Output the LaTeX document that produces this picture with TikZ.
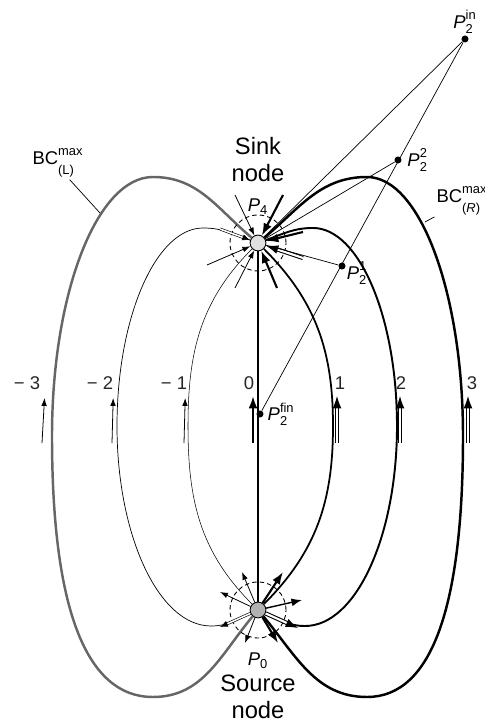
\documentclass[tikz,border=0pt]{standalone}
\usepackage{amsmath}
\usepackage{fontspec}
\setmainfont{Liberation Sans}
\usetikzlibrary{arrows.meta, positioning}

\tikzset{
  every node/.style={font=\fontsize{10.5pt}{12pt}\selectfont},
  nodelabel/.style={font=\fontsize{13.5pt}{15.5pt}\selectfont, align=center, inner sep=0pt},
  endnode/.style={circle, draw, line width=0.5pt, minimum size=9pt, inner sep=0pt},
  pdot/.style={circle, fill=black, inner sep=0pt, minimum size=4pt},
  thinline/.style={line width=0.4pt},
  thinarrow/.style={line width=0.45pt, -{Latex[length=4.5pt,width=3.2pt]}},
  thinpair/.style={line width=0.35pt, double, double distance=0.9pt, -{Latex[length=4.5pt,width=3.5pt]}},
  thickarrow/.style={line width=1.2pt, -{Latex[length=7pt,width=5pt]}},
  thickpair/.style={line width=0.6pt, double, double distance=1.2pt, -{Latex[length=7pt,width=5pt]}},
  hood/.style={dashed, dash pattern=on 2.5pt off 1.8pt, line width=0.5pt}
}
\newcommand{\lowsub}[1]{\text{\raisebox{-3.5pt}{#1}}}
\newcommand{\highsup}[1]{\text{\raisebox{1pt}{#1}}}

\begin{document}
\begin{tikzpicture}[x=0.02cm, y=0.02cm]
  \useasboundingbox (-258,0) rectangle (226,726);

  % Source and sink
  \node[endnode, fill=black!30] (src) at (0,116) {};
  \node[endnode, fill=black!12] (sink) at (0,483) {};

  % Right curves 1, 2, 3
  \draw[line width=1pt] (src) to[out=45,in=-90] (75,300) to[out=90,in=-45] (sink);
  \draw[line width=1.1pt] (src) to[out=-25,in=180] (47,100)
      .. controls +(51,0) and +(0,-110) .. (139,300)
      .. controls +(0,109) and +(46,0) .. (55,498) to[out=180,in=20] (sink);
  \draw[line width=1.4pt] (src) to[out=-50,in=180] (109,29)
      .. controls +(65,0) and +(0,-170) .. (205,290)
      .. controls +(0,143) and +(53,0) .. (109,549) to[out=180,in=40] (sink);

  % Left curves -1, -2, -3
  \draw[line width=0.3pt] (src) to[out=135,in=-90] (-70,300) to[out=90,in=-135] (sink);
  \draw[line width=0.4pt] (src) to[out=-155,in=0] (-47,100)
      .. controls +(-52,0) and +(0,-110) .. (-141,300)
      .. controls +(0,109) and +(-47,0) .. (-55,498) to[out=0,in=160] (sink);
  \draw[line width=1.4pt, black!60] (src) to[out=-130,in=0] (-105,29)
      .. controls +(-68,0) and +(0,-170) .. (-206,290)
      .. controls +(0,143) and +(-56,0) .. (-105,549) to[out=0,in=140] (sink);

  % Curve 0
  \draw[line width=1.3pt] (sink) -- (src);

  % Neighbourhoods
  \draw[hood] (src) circle[radius=28];
  \draw[hood] (sink) circle[radius=28];

  % Directions leaving the source
  \foreach \p in {(-16,154),(-38,134),(-13,83)}
    \draw[thinarrow] (src) -- \p;
  \draw[thinpair] (src) -- (-38,99);
  \foreach \p in {(25,154),(20,83)}
    \draw[thickarrow] (src) -- \p;
  \draw[line width=0.8pt, -{Latex[length=6pt,width=4.5pt]}] (src) -- (44,126);
  \draw[thickpair] (src) -- (40,98);

  % Directions entering the sink
  \foreach \p in {(-23,531),(-51,461),(-23,438)}
    \draw[thinarrow] \p -- (sink);
  \draw[thinpair] (-38,497) -- (sink);
  \foreach \p in {(25,531),(19,438),(45,494)}
    \draw[thickarrow] \p -- (sink);
  \draw[thickpair] (45,468) -- (sink);

  % Flow arrows and curve numbers
  \draw[thinarrow] (-216,283) -- (-213.5,328);
  \foreach \x in {-146,-74}
    \draw[thinarrow] (\x,283) -- (\x+1.2,328);
  \draw[thickarrow] (-5,283) -- (-5,330);
  \foreach \x in {79,142,210}
    \draw[thickpair] (\x,283) -- (\x,330);
  \foreach \x/\n [count=\i] in {-231/{− 3},-158/{− 2},-84/{− 1},-9/0,82/1,143/2,214/3}
    \node[text=black!85] (num\i) at (\x,343) {\n};

  % Points P2
  \node[pdot] (p2in) at (207,687) {};
  \node[pdot] (p2two) at (140,566) {};
  \node[pdot] (p2one) at (84,460) {};
  \node[pdot] (p2fin) at (2,312) {};
  \draw[thinline] (p2in) -- (sink);
  \draw[thinline] (p2in) -- (p2fin);
  \draw[thinline] (p2two) -- (sink);
  \draw[thinline] (p2one) -- (sink);

  \node[above=0pt of p2in, inner sep=1pt] (lp2in) {$\textit{P}^{\text{in}}_{\text{2}}$};
  \node[right=2pt of p2two, inner sep=1pt] (lp2two) {$\textit{P}^{\text{2}}_{\text{2}}$};
  \node[below right=-5pt and 0pt of p2one, inner sep=1pt] (lp2one) {$\textit{P}^{\text{1}}_{\text{2}}$};
  \node[right=1pt of p2fin, inner sep=1pt] (lp2fin) {$\textit{P}^{\text{fin}}_{\text{2}}$};

  % Labels of source and sink
  \node[above=8pt of sink] (p4) {$\textit{P}_{\text{4}}$};
  \node[below=16pt of src] (p0) {$\textit{P}_{\text{0}}$};
  \node[nodelabel, above=6pt of p4] (sinklabel) {Sink\\node};
  \node[nodelabel, below=0pt of p0] (srclabel) {Source\\node};

  % Boundary curves
  \node[inner sep=1pt] (bcl) at (-200,563) {BC$^{\highsup{max}}_{\lowsub{(L)}}$};
  \node[inner sep=1pt] (bcr) at (204,525) {BC$^{\highsup{max}}_{\lowsub{(\textit{R})}}$};
  \coordinate (bclend) at (-158,513);
  \coordinate (bcrend) at (167,504);
  \draw[thinline] (bcl.-55) -- (bclend);
  \draw[thinline] (bcr.-150) -- (bcrend);
\end{tikzpicture}
\end{document}
